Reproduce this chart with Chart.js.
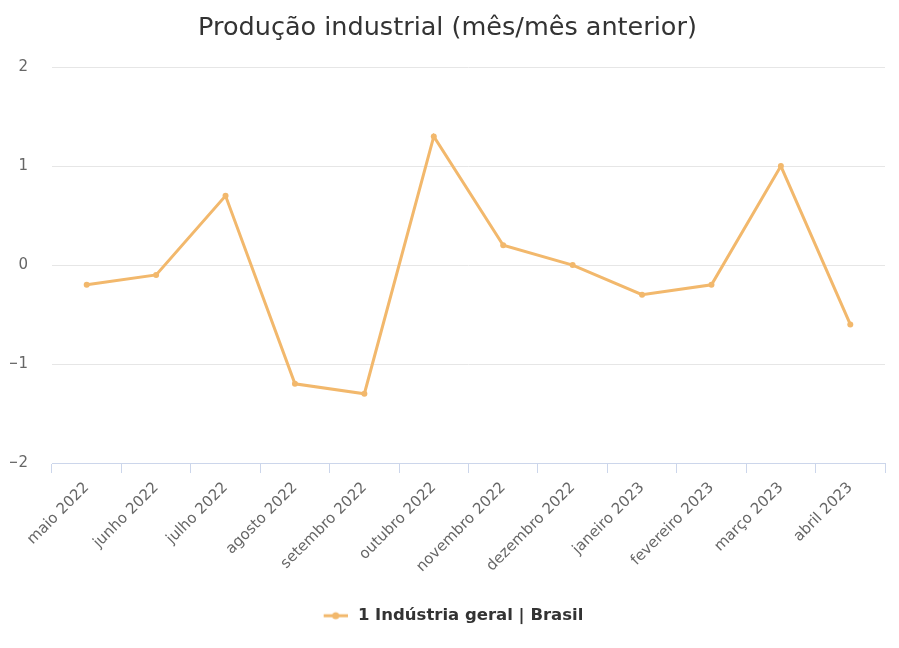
<!DOCTYPE html>
<html>
<head>
<meta charset="utf-8">
<script src="https://cdn.jsdelivr.net/npm/chart.js@4"></script>
<style>
  body { margin: 0; background: #fff; }
  #wrap { width: 899px; height: 648px; }
</style>
</head>
<body>
<div id="wrap"><canvas id="chart"></canvas></div>
<script>
// Categories and values
const months = [
  'maio 2022', 'junho 2022', 'julho 2022', 'agosto 2022', 'setembro 2022', 'outubro 2022',
  'novembro 2022', 'dezembro 2022', 'janeiro 2023', 'fevereiro 2023', 'março 2023', 'abril 2023'
];
const industriaGeral = [-0.2, -0.1, 0.7, -1.2, -1.3, 1.3, 0.2, 0.0, -0.3, -0.2, 1.0, -0.6];
const seriesName = '1 Indústria geral | Brasil';
const yTicks = [-2, -1, 0, 1, 2];

const lineColor = '#f2b86c';
const fontFamily = 'DejaVu Sans';

// little "line + dot" marker for the legend (blank strip on the left nudges the legend right)
function legendMarker() {
  const c = document.createElement('canvas');
  c.width = 34; c.height = 10;
  const g = c.getContext('2d');
  g.strokeStyle = lineColor;
  g.lineWidth = 3;
  g.beginPath(); g.moveTo(10, 5); g.lineTo(34, 5); g.stroke();
  g.fillStyle = lineColor;
  g.beginPath(); g.arc(22, 5, 3.5, 0, Math.PI * 2); g.fill();
  return c;
}
const marker = legendMarker();

new Chart(document.getElementById('chart'), {
  type: 'line',
  data: {
    labels: months,
    datasets: [{
      label: seriesName,
      data: industriaGeral,
      borderColor: lineColor,
      backgroundColor: lineColor,
      borderWidth: 3,
      pointRadius: 3,
      pointBackgroundColor: lineColor,
      pointBorderWidth: 0,
      tension: 0
    }]
  },
  options: {
    responsive: true,
    maintainAspectRatio: false,
    animation: false,
    layout: { padding: { left: 10, right: 14, top: 0, bottom: 14 } },
    plugins: {
      title: {
        display: true,
        text: 'Produção industrial (mês/mês anterior)',
        color: '#333333',
        font: { family: fontFamily, size: 25.5, weight: 'normal' },
        padding: { top: 13, bottom: 23.5 }
      },
      legend: {
        position: 'bottom',
        labels: {
          color: '#333333',
          font: { family: fontFamily, size: 16.5, weight: 'bold' },
          usePointStyle: true,
          pointStyleWidth: 38,
          padding: 10,
          generateLabels: (chart) => chart.data.datasets.map((ds, i) => ({
            text: ds.label,
            pointStyle: marker,
            fontColor: '#333333',
            strokeStyle: lineColor,
            fillStyle: lineColor,
            lineWidth: 0,
            datasetIndex: i
          }))
        }
      },
      tooltip: { enabled: false }
    },
    scales: {
      x: {
        offset: true,
        grid: {
          offset: true,
          drawOnChartArea: false,
          drawTicks: true,
          tickLength: 10,
          color: '#ccd6eb'
        },
        border: { color: '#ccd6eb', width: 1 },
        ticks: {
          color: '#666666',
          font: { family: fontFamily, size: 15 },
          maxRotation: 45,
          minRotation: 45,
          autoSkip: false,
          padding: 6
        },
        afterFit: (axis) => {
          axis.paddingLeft = 0;
          axis.paddingRight = 0;
          axis.height = 134.5;
        }
      },
      y: {
        min: yTicks[0],
        max: yTicks[yTicks.length - 1],
        afterBuildTicks: (axis) => { axis.ticks = yTicks.map(v => ({ value: v })); },
        grid: { color: '#e6e6e6', drawTicks: false },
        border: { display: false },
        ticks: {
          color: '#666666',
          font: { family: fontFamily, size: 15 },
          padding: 24,
          callback: (v) => String(v).replace('-', '\u2212')
        },
        afterFit: (axis) => { axis.width = 42; }
      }
    }
  }
});
</script>
</body>
</html>
